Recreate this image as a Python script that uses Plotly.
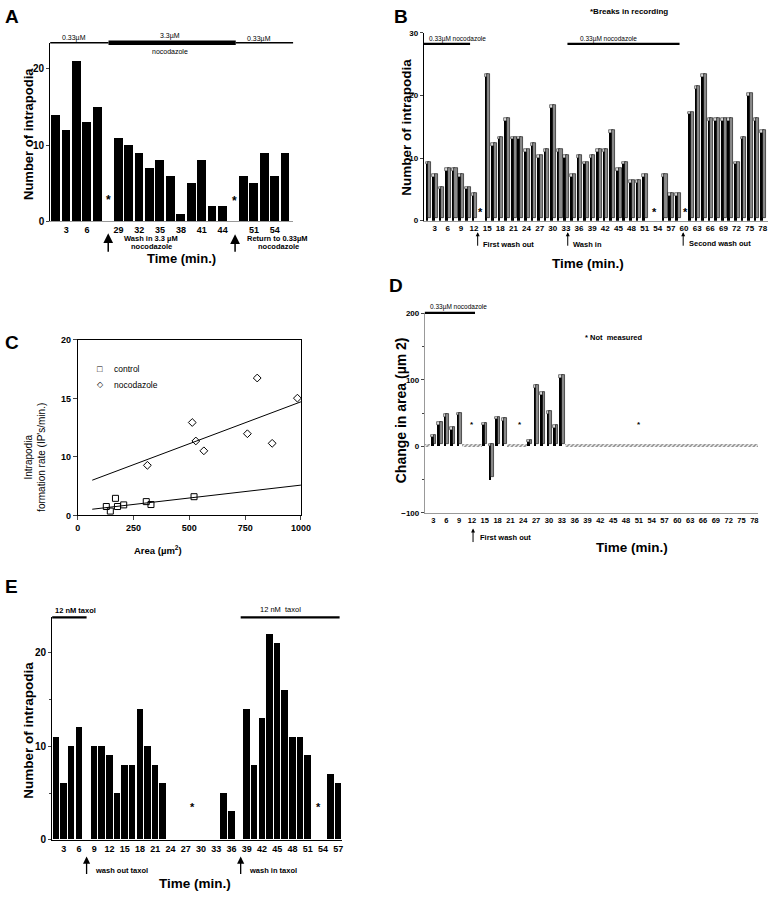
import plotly.graph_objects as go

W, H = 781, 905
FONT = "Liberation Sans, Arial, sans-serif"

# ---------------- data ----------------
# A: intrapodia counts in recording order (None = break in recording)
a_counts = [14, 12, 21, 13, 15, None, 11, 10, 9, 7, 8, 6, 1, 5, 8, 2, 2, None, 6, 5, 9, 6, 9]
a_pos = list(range(len(a_counts)))
a_tick_pos = [1, 3, 6, 8, 10, 12, 14, 16, 19, 21]
a_tick_text = ["3", "6", "29", "32", "35", "38", "41", "44", "51", "54"]

# B: intrapodia counts every 1.5 min
b_time = [1.5 * i for i in range(1, 53)]
b_counts = [9, 7, 5, 8, 8, 7, 5, 4, None, 23, 12, 13, 16, 13, 13, 11, 12, 10, 11, 18,
            11, 10, 7, 10, 9, 10, 11, 11, 14, 8, 9, 6, 6, 7, None, None, 7, 4, 4, None,
            17, 21, 23, 16, 16, 16, 16, 9, 13, 20, 16, 14]

# C: formation rate vs area
ctrl_area = [128, 146, 169, 178, 206, 307, 328, 521]
ctrl_rate = [0.76, 0.37, 1.46, 0.76, 0.90, 1.18, 0.93, 1.60]
noc_area = [312, 513, 529, 565, 760, 804, 871, 984]
noc_rate = [4.28, 7.94, 6.36, 5.52, 6.98, 11.74, 6.16, 10.02]
ctrl_fit_x = [65, 1000]
ctrl_fit_y = [0.53, 2.59]
noc_fit_x = [65, 1000]
noc_fit_y = [3.01, 9.71]
c_tick_vals = [0, 5, 10, 15]
c_tick_text = ["0", "10", "15", "20"]

# D: change in area
d_time = [1.5 * i for i in range(1, 53)]
d_change = [0, 14, 33, 45, 25, 47, 0, 0, 0, 32, -50, 41, 39, 0, 0, 0, 6, 88, 78, 49,
            28, 103, 0, 0, 0, 0, 0, 0, 0, 0, 0, 0, 0, 0, 0, 0, 0, 0, 0, 0,
            0, 0, 0, 0, 0, 0, 0, 0, 0, 0, 0, 0]

# E: taxol
e_time = [1.5 * i for i in range(1, 39)]
e_counts = [11, 6, 10, 12, None, 10, 10, 9, 5, 8, 8, 14, 10, 8, 6, None, None, None, None, None,
            None, None, 5, 3, None, 14, 8, 13, 22, 21, 16, 11, 11, 9, None, None, 7, 6]


# ---------------- helpers ----------------
def xd(a, b):
    return [a / W, b / W]


def yd(top, bottom):
    return [1 - bottom / H, 1 - top / H]


def tf(size):
    return dict(family=FONT, size=size, color="black", weight="bold")


def txt(s, x, y, size=8, bold=True, anchor="center", angle=0):
    return dict(text=s, x=x / W, y=1 - y / H, xref="paper", yref="paper", showarrow=False,
                xanchor=anchor, yanchor="middle", textangle=angle,
                font=dict(family=FONT, size=size, color="black",
                          weight="bold" if bold else "normal"))


def arrow(x, tip, tail, width=1.3, size=1.0):
    return dict(text="", x=x / W, y=1 - tip / H, xref="paper", yref="paper",
                showarrow=True, ax=0, ay=tail - tip, arrowhead=2, arrowsize=size,
                arrowwidth=width, arrowcolor="black")


def hline(x0, x1, y, w=1.5):
    return dict(type="line", xref="paper", yref="paper", x0=x0 / W, x1=x1 / W,
                y0=1 - y / H, y1=1 - y / H, line=dict(color="black", width=w))


def bars3d(fig, x, v, xa, ya, depth, wf, ws):
    top_base = [None if val is None else max(val, 0) for val in v]
    top_h = [None if val is None or val == 0 else depth for val in v]
    side = [None if val is None or val == 0 else val for val in v]
    fig.add_trace(go.Bar(x=x, y=top_h, base=top_base, width=wf + 0.15, offset=-wf,
                         marker=dict(color="#e0e0e0", line=dict(color="black", width=0.5)),
                         xaxis=xa, yaxis=ya, showlegend=False))
    fig.add_trace(go.Bar(x=x, y=side, width=wf, offset=-wf,
                         marker=dict(color="black", line=dict(width=0)),
                         xaxis=xa, yaxis=ya, showlegend=False))
    fig.add_trace(go.Bar(x=x, y=side, base=depth, width=ws, offset=0,
                         marker=dict(color="#8a8a8a", line=dict(color="black", width=0.6)),
                         xaxis=xa, yaxis=ya, showlegend=False))


fig = go.Figure()

# A
fig.add_trace(go.Bar(x=a_pos, y=a_counts, width=0.85,
                     marker=dict(color="black", line=dict(width=0)),
                     xaxis="x", yaxis="y", showlegend=False))

# B
bars3d(fig, b_time, b_counts, "x2", "y2", 0.45, 0.6, 0.7)

# C
fig.add_trace(go.Scatter(x=noc_fit_x, y=noc_fit_y, mode="lines", line=dict(color="black", width=1),
                         xaxis="x3", yaxis="y3", showlegend=False))
fig.add_trace(go.Scatter(x=ctrl_fit_x, y=ctrl_fit_y, mode="lines", line=dict(color="black", width=1),
                         xaxis="x3", yaxis="y3", showlegend=False))
fig.add_trace(go.Scatter(x=ctrl_area, y=ctrl_rate, mode="markers",
                         marker=dict(symbol="square-open", size=6, color="black", line=dict(width=1)),
                         xaxis="x3", yaxis="y3", showlegend=False))
fig.add_trace(go.Scatter(x=noc_area, y=noc_rate, mode="markers",
                         marker=dict(symbol="diamond-open", size=6, color="black", line=dict(width=1)),
                         xaxis="x3", yaxis="y3", showlegend=False))

# D
hatch_h = [5 if val == 0 else None for val in d_change]
fig.add_trace(go.Bar(x=d_time, y=hatch_h, base=-1, width=1.5, offset=-0.75,
                     marker=dict(color="white", line=dict(width=0),
                                 pattern=dict(shape="/", fgcolor="#222", bgcolor="#f4f4f4",
                                              size=3, solidity=0.5)),
                     xaxis="x4", yaxis="y4", showlegend=False))
bars3d(fig, d_time, d_change, "x4", "y4", 4, 0.6, 0.6)

# E
fig.add_trace(go.Bar(x=e_time, y=e_counts, width=1.28,
                     marker=dict(color="black", line=dict(width=0)),
                     xaxis="x5", yaxis="y5", showlegend=False))

base_ax = dict(showgrid=False, zeroline=False, showline=True, linewidth=1)

fig.update_layout(
    width=W, height=H, margin=dict(l=0, r=0, t=0, b=0),
    paper_bgcolor="white", plot_bgcolor="white", barmode="overlay", bargap=0,
    showlegend=False,
    xaxis=dict(base_ax, domain=xd(48, 295), range=[-0.54, 22.76], anchor="y",
               tickmode="array", tickvals=a_tick_pos, ticktext=a_tick_text,
               linecolor="#999", ticks="", tickfont=tf(9)),
    yaxis=dict(base_ax, domain=yd(38.3, 219), range=[0, 23.4], anchor="x",
               tickmode="linear", tick0=0, dtick=10, linecolor="black",
               ticks="outside", ticklen=3, tickfont=tf(10)),
    xaxis2=dict(base_ax, domain=xd(428, 778), range=[0.53, 79.2], anchor="y2",
                tickmode="linear", tick0=3, dtick=3, linecolor="#999", ticks="",
                tickfont=tf(8)),
    yaxis2=dict(base_ax, domain=yd(28.3, 218.3), range=[0, 30], anchor="x2",
                tickmode="linear", tick0=0, dtick=10, linecolor="black",
                ticks="outside", ticklen=3, tickfont=tf(8)),
    xaxis3=dict(base_ax, domain=xd(76, 303), range=[0, 1000], anchor="y3",
                tickmode="linear", tick0=0, dtick=250, linecolor="black", mirror=True,
                ticks="outside", ticklen=4, tickfont=tf(9)),
    yaxis3=dict(base_ax, domain=yd(339, 516.7), range=[0, 15], anchor="x3",
                tickmode="array", tickvals=c_tick_vals, ticktext=c_tick_text,
                linecolor="black", mirror=True, ticks="outside", ticklen=4, tickfont=tf(9)),
    xaxis4=dict(base_ax, domain=xd(429, 768), range=[1.0, 78.9], anchor="y4",
                tickmode="linear", tick0=3, dtick=3, linecolor="#999", ticks="",
                tickfont=tf(7.5)),
    yaxis4=dict(base_ax, domain=yd(311.7, 514), range=[-100, 201], anchor="x4",
                tickmode="linear", tick0=-100, dtick=100, linecolor="#999",
                ticks="outside", ticklen=3, tickfont=tf(8),
                minor=dict(ticks="outside", ticklen=2, dtick=50, tick0=0)),
    xaxis5=dict(base_ax, domain=xd(50, 345), range=[0.73, 57.8], anchor="y5",
                tickmode="linear", tick0=3, dtick=3, linecolor="black", ticks="",
                tickfont=tf(9)),
    yaxis5=dict(base_ax, domain=yd(620, 845), range=[0, 23.8], anchor="x5",
                tickmode="linear", tick0=0, dtick=10, linecolor="black",
                ticks="outside", ticklen=3, tickfont=tf(10),
                minor=dict(ticks="outside", ticklen=2, dtick=5, tick0=0)),
)

shapes = [
    # A treatment bars
    hline(48, 107.3, 38.3, 1.5), hline(107.3, 236.7, 38.3, 4.5), hline(236.7, 295, 38.3, 1.5),
    # B
    hline(428, 475, 39.3, 2.2), hline(574, 688, 39.3, 2.2),
    # D
    hline(429, 480, 311.7, 2.2),
    # E
    hline(50, 85, 620, 2.2), hline(241.7, 342.3, 620, 2.2),
]

ann = [
    # panel letters
    txt("A", 9, 12, 19), txt("B", 405, 12, 19), txt("C", 9, 342, 19),
    txt("D", 400, 284, 19), txt("E", 9, 589, 19),
    # A
    txt("Number of intrapodia", 26, 131, 13, angle=-90),
    txt("Time (min.)", 182, 257, 13),
    txt("0.33µM", 72, 33, 7, bold=False), txt("3.3µM", 170, 31, 7, bold=False),
    txt("nocodazole", 170, 47.5, 7, bold=False), txt("0.33µM", 260, 34, 7, bold=False),
    txt("*", 107, 197, 12), txt("*", 235, 198, 12),
    arrow(107, 231, 251, 1.5, 1.3), arrow(236, 232, 251, 1.5, 1.3),
    txt("Wash in 3.3 µM", 151, 236.5, 7.5), txt("nocodazole", 151, 244, 7.5),
    txt("Return to 0.33µM", 279, 236.5, 7.5), txt("nocodazole", 280, 244.5, 7.5),
    # B
    txt("Number of intrapodia", 410, 124, 13.5, angle=-90),
    txt("Time (min.)", 595, 262, 13.5),
    txt("*Breaks in recording", 637, 7, 8),
    txt("0.33µM nocodazole", 431, 34, 6.5, bold=False, anchor="left"),
    txt("0.33µM nocodazole", 585, 34, 6.5, bold=False, anchor="left"),
    txt("*", 486, 210, 11), txt("*", 663, 210, 11), txt("*", 694, 210, 11),
    arrow(482.7, 230, 245, 1, 0.8), arrow(574.3, 230, 245, 1, 0.8), arrow(691.7, 230, 245, 1, 0.8),
    txt("First wash out", 486, 242, 7.5, anchor="left"),
    txt("Wash in", 578, 242, 7.5, anchor="left"),
    txt("Second wash out", 696, 241.5, 7.5, anchor="left"),
    # C
    txt("Intrapodia<br>formation rate (IP's/min.)", 33, 458, 10, bold=False, angle=-90),
    txt("Area (µm<sup>2</sup>)", 158, 552, 9.5),
    txt("\u25a1", 99, 368.5, 9, bold=False), txt("control", 111, 368.5, 8.5, bold=False, anchor="left"),
    txt("\u25c7", 99, 384.5, 8, bold=False), txt("nocodazole", 111, 384.5, 8.5, bold=False, anchor="left"),
    # D
    txt("Change in area (µm 2)", 405, 410, 14, angle=-90),
    txt("Time (min.)", 640, 549, 13.5),
    txt("0.33µM nocodazole", 432, 306, 6.5, bold=False, anchor="left"),
    txt("* Not  measured", 621, 337, 7.5),
    txt("*", 477, 425, 8), txt("*", 526, 425, 8), txt("*", 647, 425, 8),
    arrow(478, 530, 545, 1, 0.8),
    txt("First wash out", 483, 539, 7.5, anchor="left"),
    # E
    txt("Number of intrapodia", 26, 734, 13.5, angle=-90),
    txt("Time (min.)", 195, 889, 13.5),
    txt("12 nM taxol", 51, 613, 7.5, anchor="left"),
    txt("12 nM  taxol", 282, 612, 7.5, bold=False),
    txt("*", 193, 812, 11), txt("*", 321, 812, 11),
    arrow(85, 862, 881, 1.3, 1.1), arrow(241.7, 862, 881, 1.3, 1.1),
    txt("wash out taxol", 92, 876, 7.5, anchor="left"),
    txt("wash in taxol", 248, 876, 7.5, anchor="left"),
]

fig.update_layout(shapes=shapes, annotations=ann)
fig.write_html("out.html", config={"displayModeBar": False},
               post_script="document.body.style.margin='0';")
